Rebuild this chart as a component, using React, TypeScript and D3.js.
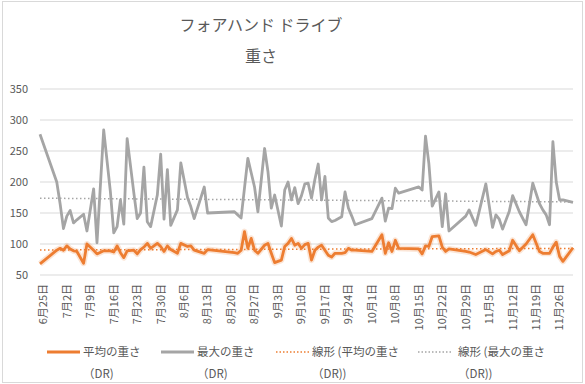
import React from "react";
import * as d3 from "d3";

const dates = [
  "2023-06-24","2023-06-29","2023-06-30","2023-07-01","2023-07-02","2023-07-03","2023-07-04","2023-07-05","2023-07-07","2023-07-08",
  "2023-07-10","2023-07-11","2023-07-13","2023-07-15","2023-07-16","2023-07-17","2023-07-18","2023-07-19","2023-07-20","2023-07-22",
  "2023-07-23","2023-07-24","2023-07-25","2023-07-26","2023-07-27","2023-07-29","2023-07-30","2023-07-31","2023-08-01","2023-08-02",
  "2023-08-04","2023-08-05","2023-08-07","2023-08-08","2023-08-09","2023-08-12","2023-08-13","2023-08-21","2023-08-22","2023-08-23",
  "2023-08-24","2023-08-25","2023-08-26","2023-08-27","2023-08-28","2023-08-30","2023-08-31","2023-09-01","2023-09-02","2023-09-04",
  "2023-09-05","2023-09-06","2023-09-07","2023-09-08","2023-09-09","2023-09-10","2023-09-11","2023-09-12","2023-09-13","2023-09-14",
  "2023-09-15","2023-09-16","2023-09-17","2023-09-18","2023-09-19","2023-09-20","2023-09-22","2023-09-23","2023-09-24","2023-09-25",
  "2023-09-26","2023-10-01","2023-10-04","2023-10-05","2023-10-06","2023-10-07","2023-10-08","2023-10-09","2023-10-15","2023-10-16",
  "2023-10-17","2023-10-18","2023-10-19","2023-10-21","2023-10-22","2023-10-23","2023-10-24","2023-10-29","2023-10-30","2023-11-01",
  "2023-11-04","2023-11-06","2023-11-07","2023-11-08","2023-11-09","2023-11-11","2023-11-12","2023-11-14","2023-11-16","2023-11-18",
  "2023-11-20","2023-11-21","2023-11-22","2023-11-23","2023-11-24","2023-11-25","2023-11-26","2023-11-27","2023-11-30",
];

const avgWeight = [
  68, 90, 93, 90, 97, 92, 89, 88, 69, 100,
  90, 84, 89, 89, 87, 97, 86, 78, 89, 90,
  84, 91, 95, 101, 93, 101, 96, 88, 97, 91,
  85, 101, 96, 97, 90, 85, 91, 86, 85, 90,
  120, 93, 109, 90, 85, 98, 101, 85, 70, 74,
  96, 101, 109, 98, 101, 93, 99, 101, 74, 90,
  95, 98, 90, 82, 79, 85, 85, 86, 93, 90,
  90, 88, 115, 85, 102, 88, 106, 93, 92, 84,
  97, 96, 112, 113, 95, 88, 92, 88, 87, 83,
  91, 84, 88, 90, 83, 89, 106, 89, 100, 115,
  88, 85, 85, 85, 95, 103, 80, 72, 94,
];

const maxWeight = [
  277, 200, 165, 125, 145, 154, 134, 139, 148, 121,
  189, 102, 284, 184, 118, 128, 171, 132, 270, 182,
  141, 150, 224, 136, 128, 179, 245, 140, 220, 130,
  155, 231, 175, 160, 141, 192, 150, 152, 147, 142,
  190, 238, 215, 192, 152, 254, 217, 158, 179, 129,
  187, 200, 171, 191, 165, 178, 197, 198, 174, 204,
  229, 171, 209, 142, 136, 138, 144, 184, 158, 145,
  131, 141, 174, 137, 158, 157, 190, 182, 192, 187,
  274, 230, 161, 184, 128, 181, 121, 145, 155, 130,
  197, 127, 147, 140, 124, 153, 178, 152, 131, 198,
  165, 155, 147, 131, 265, 200, 171, 171, 167,
];

const yTicks = [50, 100, 150, 200, 250, 300, 350];
const axisStart = "2023-06-24";
const axisEnd = "2023-11-30";
const firstLabel = "2023-06-25";
const labelCount = 23;

const titleLines = ["フォアハンド ドライブ", "重さ"];
const legendItems = [
  { l1: "平均の重さ", l2: "（DR)", color: "#ED7D31", dotted: false },
  { l1: "最大の重さ", l2: "（DR)", color: "#A5A5A5", dotted: false },
  { l1: "線形 (平均の重さ", l2: "（DR))", color: "#ED7D31", dotted: true },
  { l1: "線形 (最大の重さ", l2: "（DR))", color: "#A5A5A5", dotted: true },
];

const FONT = "'Noto Sans CJK JP', 'Noto Sans', sans-serif";
const TEXT = "#595959";

function linreg(xs: number[], ys: number[]) {
  const n = xs.length;
  const mx = d3.mean(xs)!;
  const my = d3.mean(ys)!;
  let sxy = 0, sxx = 0;
  for (let i = 0; i < n; i++) {
    sxy += (xs[i] - mx) * (ys[i] - my);
    sxx += (xs[i] - mx) * (xs[i] - mx);
  }
  const b = sxy / sxx;
  return (x: number) => my + b * (x - mx);
}

export default function App() {
  const W = 585, H = 384;
  const left = 40, right = 573, top = 89, bottom = 275;
  const parse = d3.utcParse("%Y-%m-%d");
  const ds = dates.map((s) => parse(s)!);
  const x = d3.scaleUtc().domain([parse(axisStart)!, parse(axisEnd)!]).range([left, right]);
  const y = d3.scaleLinear().domain([50, 350]).range([bottom, top]);

  const labels = d3.range(labelCount).map((i) => d3.utcDay.offset(parse(firstLabel)!, i * 7));
  const fmt = (d: Date) => `${d.getUTCMonth() + 1}月${d.getUTCDate()}日`;

  const line = d3.line<number>().x((_, i) => x(ds[i])).y((v) => y(v));

  const xs = ds.map((d) => +d);
  const tAvg = linreg(xs, avgWeight);
  const tMax = linreg(xs, maxWeight);
  const x0 = xs[0], x1 = xs[xs.length - 1];

  const legendX = [47, 161, 276, 418];
  const legendTextX = [83, 197, 312, 458];

  return (
    <svg width={W} height={H} style={{ position: "absolute", left: 0, top: 0, background: "#fff" }} fontFamily={FONT}>
      <rect x={2.5} y={1.5} width={580} height={381} fill="#fff" stroke="#D9D9D9" />
      {titleLines.map((t, i) => (
        <text key={i} x={261} y={31 + i * 31} textAnchor="middle" fontSize={16} fill={TEXT}>{t}</text>
      ))}
      {yTicks.map((t) => (
        <g key={t}>
          <line x1={left} x2={right} y1={y(t)} y2={y(t)} stroke="#D9D9D9" strokeWidth={1} />
          <text x={28} y={y(t)} dy="0.35em" textAnchor="end" fontSize={11} fill={TEXT}>{t}</text>
        </g>
      ))}
      {labels.map((d, i) => (
        <text key={i} transform={`translate(${x(d)},284) rotate(-90)`} textAnchor="end" dy="0.35em" fontSize={11} fill={TEXT}>{fmt(d)}</text>
      ))}
      <path d={line(avgWeight)!} fill="none" stroke="#ED7D31" strokeOpacity={0.2} strokeWidth={6} strokeLinejoin="round" />
      <path d={line(maxWeight)!} fill="none" stroke="#A5A5A5" strokeWidth={2.8} strokeLinejoin="round" />
      <path d={line(avgWeight)!} fill="none" stroke="#ED7D31" strokeWidth={2.8} strokeLinejoin="round" />
      <line x1={x(new Date(x0))} x2={x(new Date(x1))} y1={y(tAvg(x0))} y2={y(tAvg(x1))} stroke="#ED7D31" strokeWidth={1.5} strokeDasharray="1.5 2.5" />
      <line x1={x(new Date(x0))} x2={x(new Date(x1))} y1={y(tMax(x0))} y2={y(tMax(x1))} stroke="#A5A5A5" strokeWidth={1.5} strokeDasharray="1.5 2.5" />
      {legendItems.map((it, i) => (
        <g key={i}>
          <line x1={legendX[i]} x2={legendX[i] + 33} y1={352} y2={352} stroke={it.color}
            strokeWidth={it.dotted ? 1.5 : 2.8} strokeDasharray={it.dotted ? "1.5 2" : undefined} />
          <text x={legendTextX[i]} y={352} dy="0.35em" fontSize={11.5} fill={TEXT}>{it.l1}</text>
          <text x={legendTextX[i]} y={374} dy="0.35em" fontSize={11.5} fill={TEXT}>{it.l2}</text>
        </g>
      ))}
    </svg>
  );
}
